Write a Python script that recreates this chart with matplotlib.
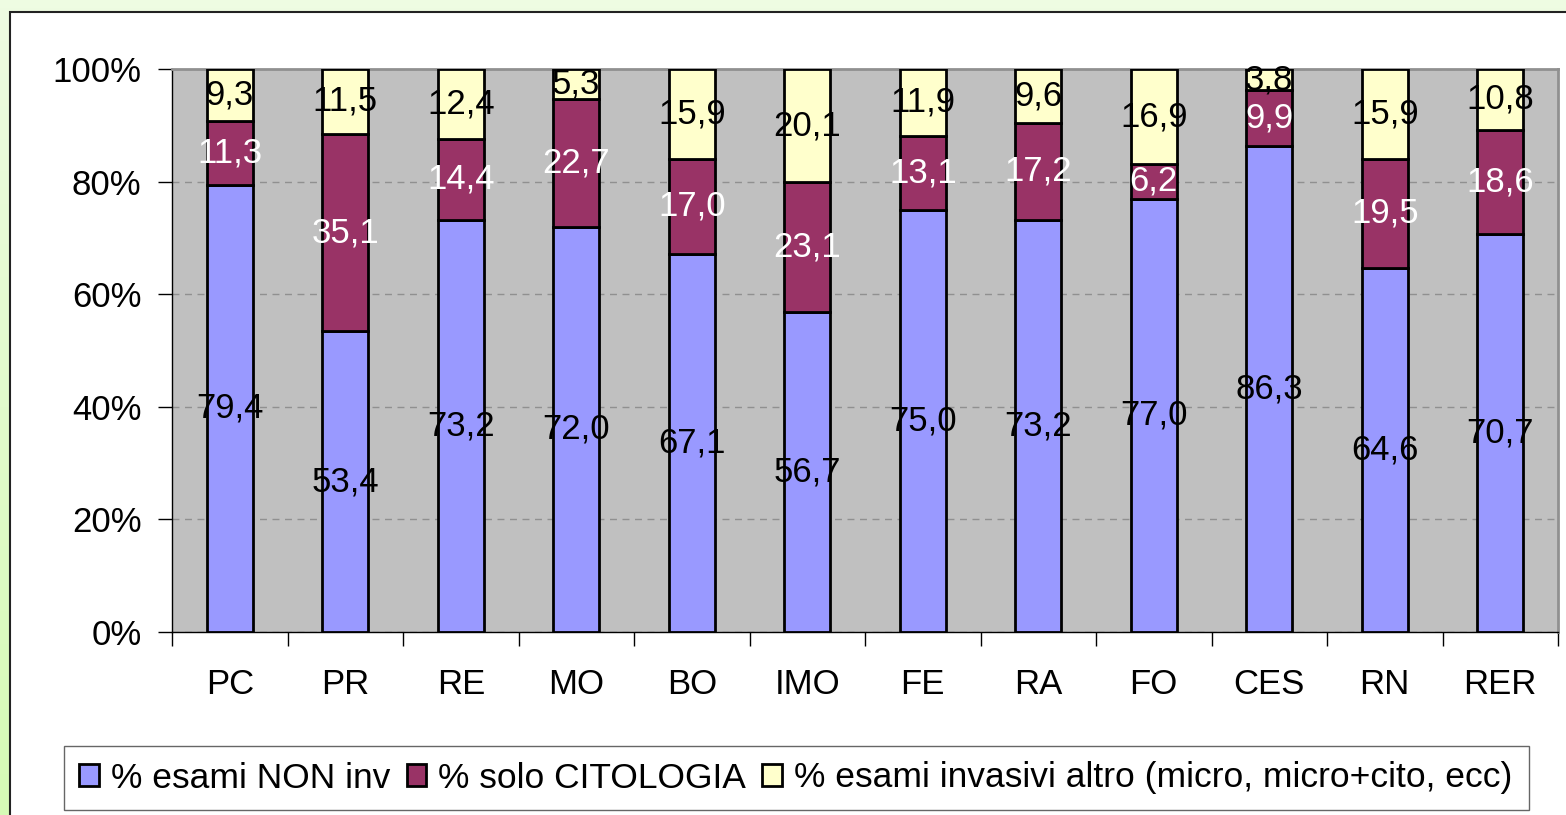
import numpy as np
import matplotlib.pyplot as plt
from matplotlib.patches import Rectangle
from matplotlib.colors import LinearSegmentedColormap

plt.rcParams['font.family'] = ['Liberation Sans', 'DejaVu Sans']

categorie = ['PC', 'PR', 'RE', 'MO', 'BO', 'IMO', 'FE', 'RA', 'FO', 'CES', 'RN', 'RER']
non_inv = [79.4, 53.4, 73.2, 72.0, 67.1, 56.7, 75.0, 73.2, 77.0, 86.3, 64.6, 70.7]
citologia = [11.3, 35.1, 14.4, 22.7, 17.0, 23.1, 13.1, 17.2, 6.2, 9.9, 19.5, 18.6]
invasivi = [9.3, 11.5, 12.4, 5.3, 15.9, 20.1, 11.9, 9.6, 16.9, 3.8, 15.9, 10.8]
nomi_serie = ['% esami NON inv', '% solo CITOLOGIA',
              '% esami invasivi altro (micro, micro+cito, ecc)']

colori = ['#9999FF', '#993366', '#FFFFCC']
colori_testo = ['black', 'white', 'black']

W, H = 1566, 815
fig = plt.figure(figsize=(W / 100, H / 100), dpi=100)

# sfondo verde sfumato + riquadro bianco del grafico
bg = fig.add_axes([0, 0, 1, 1], zorder=-10)
grad = LinearSegmentedColormap.from_list('g', ['#EEFCE2', '#D6FAB6'])
bg.imshow(np.linspace(0, 1, 100).reshape(-1, 1), aspect='auto', cmap=grad,
          extent=[0, 1, 0, 1])
bg.add_patch(Rectangle((10 / W, -0.01), 1, 1 - 12 / H + 0.01, facecolor='white',
                       edgecolor='#222222', linewidth=1.5))
bg.set_xlim(0, 1)
bg.set_ylim(0, 1)
bg.axis('off')

ax = fig.add_axes([172 / W, 1 - 632 / H, (1558 - 172) / W, (632 - 69) / H])
ax.set_facecolor('#C0C0C0')

serie = np.array([non_inv, citologia, invasivi])
perc = serie / serie.sum(axis=0) * 100
x = np.arange(len(categorie))

base = np.zeros(len(categorie))
handles = []
for i in range(3):
    b = ax.bar(x, perc[i], 0.4, bottom=base, color=colori[i], edgecolor='black',
               linewidth=2, label=nomi_serie[i], zorder=3)
    handles.append(b)
    for j in range(len(categorie)):
        ax.text(x[j], base[j] + perc[i][j] / 2, f'{serie[i][j]:.1f}'.replace('.', ','),
                ha='center', va='center', fontsize=25, color=colori_testo[i], zorder=4)
    base += perc[i]

ax.set_xlim(-0.5, len(categorie) - 0.5)
ax.set_ylim(0, 100)
ax.set_yticks([0, 20, 40, 60, 80, 100])
ax.set_yticklabels(['0%', '20%', '40%', '60%', '80%', '100%'], fontsize=25)
ax.yaxis.grid(True, linestyle=(0, (5, 4)), color='#909090', linewidth=1, zorder=0)
ax.set_axisbelow(True)

ax.set_xticks(x)
ax.set_xticklabels(categorie, fontsize=25)
ax.set_xticks(np.arange(-0.5, len(categorie)), minor=True)
ax.tick_params(axis='x', which='major', length=0, pad=26)
ax.tick_params(axis='x', which='minor', length=10, width=1, direction='out')
ax.tick_params(axis='y', length=10, width=1, direction='out', pad=12)

for s in ['left', 'bottom']:
    ax.spines[s].set_color('black')
    ax.spines[s].set_linewidth(1)
for s in ['top', 'right']:
    ax.spines[s].set_color('#909090')
    ax.spines[s].set_linewidth(2)

leg = fig.legend(handles=handles, loc='center', bbox_to_anchor=(796 / W, 1 - 778 / H),
                 ncol=3, fontsize=25.5, frameon=True, fancybox=False, handlelength=0.55,
                 handleheight=0.6, handletextpad=0.35, columnspacing=0.45,
                 borderpad=0.45, borderaxespad=0)
leg.get_frame().set_edgecolor('#404040')
leg.get_frame().set_linewidth(1)

fig.savefig('out.png', dpi=100)
